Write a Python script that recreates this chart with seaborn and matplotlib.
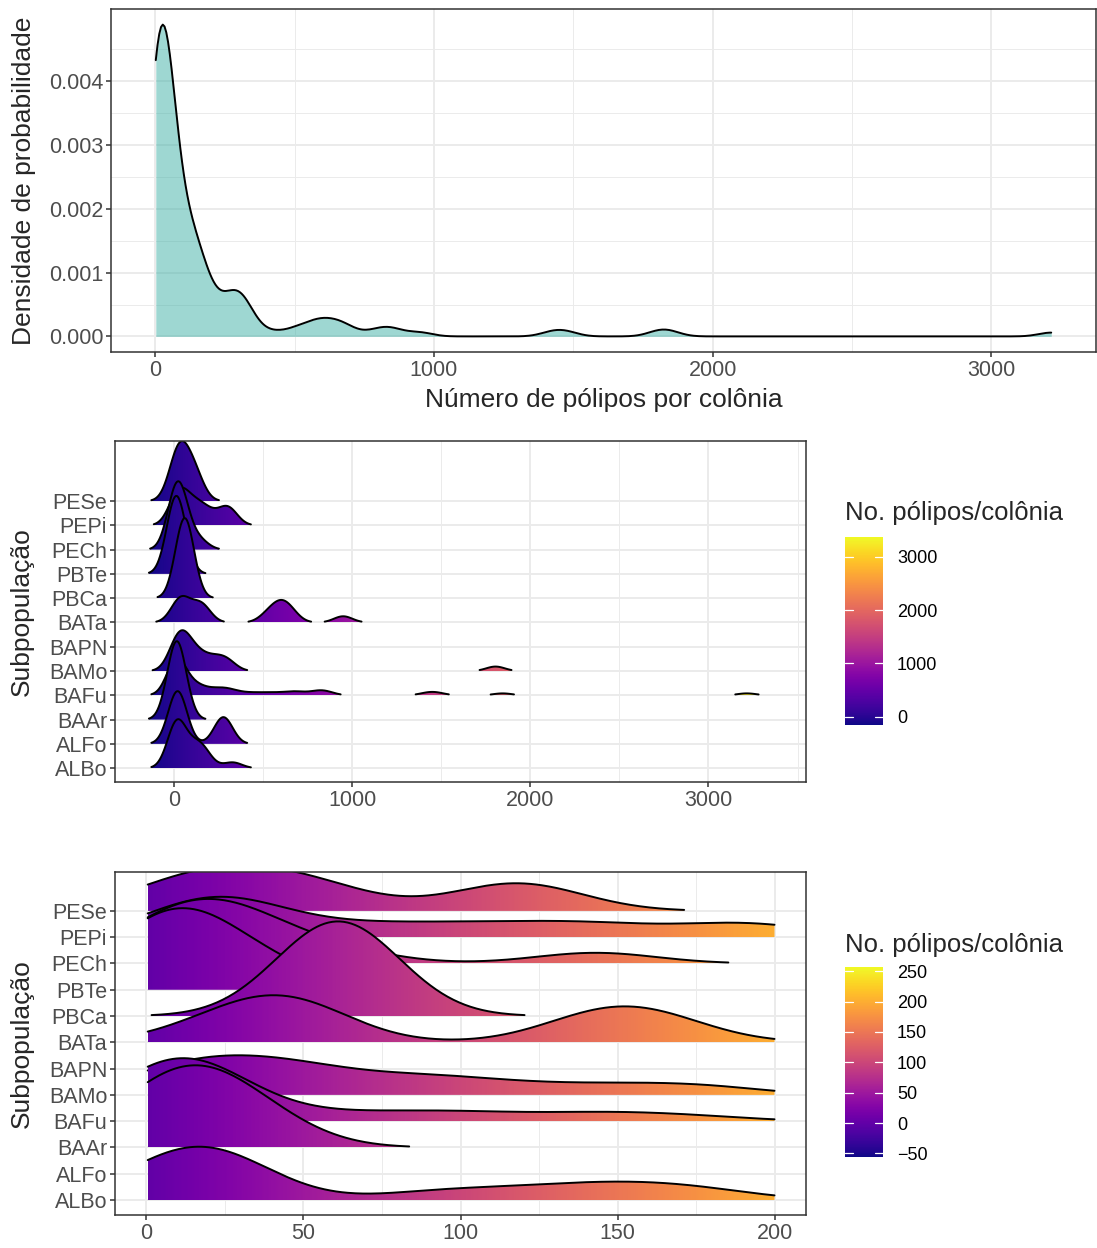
import numpy as np
import pandas as pd
import matplotlib
matplotlib.use("Agg")
import matplotlib.pyplot as plt
import seaborn as sns
from matplotlib.patches import Polygon
from matplotlib.colors import Normalize
from matplotlib.cm import ScalarMappable

# pólipos por colônia em cada subpopulação (valores estimados a partir da figura)
albo = [3, 7, 11, 15, 19, 22, 26, 31, 92, 120, 142, 158, 178, 330]
alfo = [12, 30, 278]
baar = [2, 5, 8, 11, 14, 18, 24, 31, 37]
bafu = [2, 3, 4, 5, 6, 7, 8, 9, 10, 11, 12, 13, 15, 17, 20, 22, 26,
        40, 62, 80, 96, 112, 138, 152, 175,
        230, 250, 280, 310, 340, 420, 500, 580, 660, 700, 790, 830, 860,
        1425, 1475, 1845, 3215]
bamo = [3, 10, 18, 26, 34, 42, 52, 62, 85, 95, 120, 150, 178,
        220, 250, 290, 310, 1805]
bapn = [40, 75]
bata = [22, 38, 45, 52, 140, 152, 165, 525, 575, 600, 625, 660, 950]
pbca = [57, 61, 65]
pbte = [2, 5, 9, 13, 18, 40]
pech = [3, 8, 13, 18, 24, 30, 38, 60, 143]
pepi = [8, 14, 20, 25, 31, 36, 62, 85, 108, 130, 150, 182, 199,
        282, 295, 305, 322]
pese = [4, 10, 17, 24, 31, 38, 45, 53, 62, 108, 115, 121, 128]

subpops = ["ALBo", "ALFo", "BAAr", "BAFu", "BAMo", "BAPN",
           "BATa", "PBCa", "PBTe", "PECh", "PEPi", "PESe"]
values = [albo, alfo, baar, bafu, bamo, bapn, bata, pbca, pbte, pech, pepi, pese]

df = pd.DataFrame({"subpop": np.repeat(subpops, [len(v) for v in values]),
                   "polipos": np.concatenate(values).astype(float)})

BW_TOP, BW_MID, BW_LOW = 45, 52, 19.3

sns.set_theme(style="white")
plt.rcParams["font.family"] = ["Liberation Sans", "DejaVu Sans"]

fig = plt.figure(figsize=(10.97, 12.48), dpi=100)
W, H = 1097, 1248


def axes_px(l, t, r, b):
    return fig.add_axes([l / W, 1 - b / H, (r - l) / W, (b - t) / H])


def style(ax):
    for sp in ax.spines.values():
        sp.set_visible(True)
        sp.set_color("#333333")
        sp.set_linewidth(1.1)
    ax.tick_params(which="major", length=3.6, width=1.1, color="#333333",
                   labelsize=15.5, labelcolor="#4d4d4d", pad=2,
                   bottom=True, left=True)
    ax.tick_params(which="minor", length=0)
    ax.grid(which="major", color="#ebebeb", lw=1.4)
    ax.grid(which="minor", color="#ebebeb", lw=0.7)
    ax.set_axisbelow(True)


def kde(x, grid, bw):
    z = (grid[:, None] - np.asarray(x, float)[None, :]) / bw
    return np.exp(-0.5 * z ** 2).sum(axis=1) / (len(x) * bw * np.sqrt(2 * np.pi))


def ridges(ax, data, bw, scale, xclip=None, rel_min=0.01, min_n=3):
    lo = data.polipos.min() - 3 * bw
    hi = data.polipos.max() + 3 * bw
    grid = np.linspace(lo, hi, 512)
    dens = {}
    for name, g in data.groupby("subpop"):
        if len(g) >= min_n:
            dens[name] = kde(g.polipos.values, grid, bw)
    dmax = max(d.max() for d in dens.values())
    norm = Normalize(lo, hi)
    if xclip is None:
        keep = np.ones_like(grid, bool)
    else:
        keep = (grid >= xclip[0]) & (grid <= xclip[1])
    tops = []
    for i in range(len(subpops) - 1, -1, -1):
        name = subpops[i]
        if name not in dens:
            continue
        h = dens[name] / dmax * scale
        y0 = i + 1
        ok = (dens[name] >= rel_min * dmax) & keep
        idx = np.flatnonzero(ok)
        if len(idx) == 0:
            continue
        tops.append(y0 + h[idx].max())
        segs = np.split(idx, np.flatnonzero(np.diff(idx) > 1) + 1)
        z = 2 + (len(subpops) - i) * 0.1
        for s in segs:
            xs, ys = grid[s], y0 + h[s]
            verts = np.vstack([np.column_stack([xs, ys]),
                               [[xs[-1], y0], [xs[0], y0]]])
            poly = Polygon(verts, closed=True, fc="none", ec="none")
            ax.add_patch(poly)
            im = ax.imshow(np.linspace(xs[0], xs[-1], 256)[None, :],
                           extent=(xs[0], xs[-1], y0, ys.max()),
                           origin="lower", aspect="auto", cmap="plasma",
                           norm=norm, zorder=z, interpolation="bilinear")
            im.set_clip_path(poly)
            ax.plot(xs, ys, color="black", lw=1.4, zorder=z + 0.05)
    return norm, (lo, hi), max(tops)


def colorbar(l, t, r, b, norm, ticks, labels, title, title_y):
    cax = axes_px(l, t, r, b)
    cb = fig.colorbar(ScalarMappable(norm=norm, cmap="plasma"), cax=cax)
    cb.outline.set_visible(False)
    cb.set_ticks(ticks, labels=labels)
    cax.tick_params(length=0, labelsize=13, pad=10, labelcolor="black")
    tr = cax.get_yaxis_transform()
    for tk in ticks:
        cax.plot([0, 0.2], [tk, tk], color="white", lw=0.9, transform=tr)
        cax.plot([0.8, 1], [tk, tk], color="white", lw=0.9, transform=tr)
    cax.set_ylim(norm.vmin, norm.vmax)
    fig.text(l / W, 1 - title_y / H, title, fontsize=18.5, va="center")


# --- painel superior: densidade geral ---
ax1 = axes_px(111, 9, 1096, 352)
sd = df.polipos.std()
sns.kdeplot(data=df, x="polipos", bw_method=BW_TOP / sd, cut=0, gridsize=512,
            fill=True, color="#3fb0a6", alpha=0.5, linewidth=0, ax=ax1)
sns.kdeplot(data=df, x="polipos", bw_method=BW_TOP / sd, cut=0, gridsize=512,
            color="black", lw=1.4, ax=ax1)
style(ax1)
ymax = ax1.lines[-1].get_ydata().max()
xmin, xmax = df.polipos.min(), df.polipos.max()
pad = 0.05 * (xmax - xmin)
ax1.set_xlim(xmin - pad, xmax + pad)
ax1.set_ylim(-0.05 * ymax, 1.05 * ymax)
ax1.set_xticks([0, 1000, 2000, 3000])
ax1.set_xticks([500, 1500, 2500], minor=True)
ax1.set_yticks([0, 0.001, 0.002, 0.003, 0.004],
               labels=["0.000", "0.001", "0.002", "0.003", "0.004"])
ax1.set_yticks(np.arange(0.0005, 0.005, 0.001), minor=True)
ax1.set_xlabel("Número de pólipos por colônia", fontsize=19, labelpad=5)
ax1.set_ylabel("Densidade de probabilidade", fontsize=19, labelpad=9)

# --- painel do meio: cristas com todos os dados ---
ax2 = axes_px(115, 441, 806, 782)
norm2, (lo2, hi2), top2 = ridges(ax2, df, BW_MID, scale=3.3)
style(ax2)
pad2 = 0.05 * (hi2 - lo2)
ax2.set_xlim(lo2 - pad2, hi2 + pad2)
ax2.set_ylim(0.43, max(12.6, top2))
ax2.set_xticks([0, 1000, 2000, 3000])
ax2.set_xticks([500, 1500, 2500, 3500], minor=True)
ax2.set_yticks(range(1, 13), labels=subpops)
ax2.set_xlabel("")
ax2.set_ylabel("Subpopulação", fontsize=19, labelpad=11)
colorbar(845, 537, 883, 725, norm2, [0, 1000, 2000, 3000],
         ["0", "1000", "2000", "3000"], "No. pólipos/colônia", 513)

# --- painel inferior: cristas com 0 a 200 pólipos ---
ax3 = axes_px(115, 872, 806, 1215)
low = df[(df.polipos >= 0) & (df.polipos <= 200)]
norm3, _, _ = ridges(ax3, low, BW_LOW, scale=3.6, xclip=(0, 200))
style(ax3)
ax3.set_xlim(-10, 210)
ax3.set_ylim(0.43, 13.48)
ax3.set_xticks([0, 50, 100, 150, 200])
ax3.set_xticks([25, 75, 125, 175], minor=True)
ax3.set_yticks(range(1, 13), labels=subpops)
ax3.set_ylabel("Subpopulação", fontsize=19, labelpad=11)
colorbar(845, 967, 883, 1157, norm3, [-50, 0, 50, 100, 150, 200, 250],
         ["\u221250", "0", "50", "100", "150", "200", "250"],
         "No. pólipos/colônia", 945)

fig.savefig("out.png", dpi=100)
